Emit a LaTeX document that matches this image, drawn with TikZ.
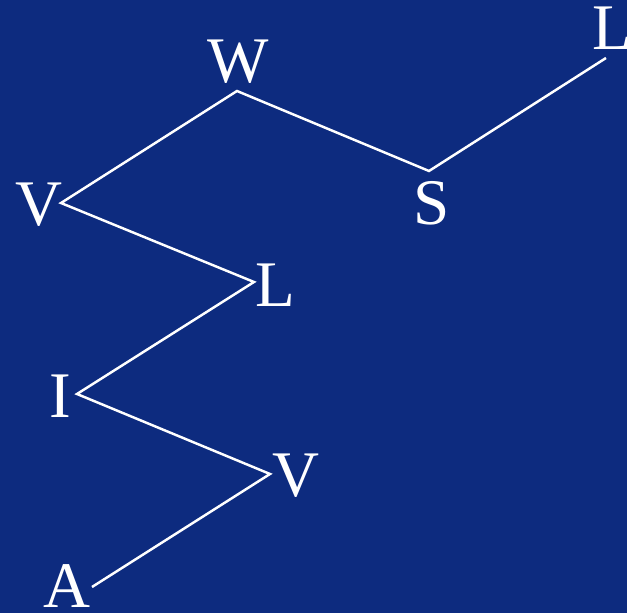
\documentclass[tikz,border=0pt]{standalone}
\usepackage{fontspec}
\setmainfont{Liberation Serif}
\usetikzlibrary{positioning}
\definecolor{TreeNavy}{RGB}{13,43,127}
\tikzset{
  tree/letter/.style={
    text=white,
    inner sep=0pt,
    font=\fontsize{18.5}{20}\selectfont
  },
  tree/edge/.style={draw=white, line width=0.7pt}
}

\begin{document}
\begin{tikzpicture}[x=0.01cm,y=-0.01cm]
  \fill[TreeNavy] (0,0) rectangle (627,613);
  \useasboundingbox (0,0) rectangle (627,613);
  % letters
  \node[tree/letter] (lW) at (238,61.5) {W};
  \node[tree/letter] (lL1) at (612,28.5) {L};
  \node[tree/letter] (lV1) at (39,205) {V};
  \node[tree/letter] (lS) at (432,203) {S};
  \node[tree/letter] (lL2) at (275,285) {L};
  \node[tree/letter] (lI) at (60,396) {I};
  \node[tree/letter] (lV2) at (296,476) {V};
  \node[tree/letter] (lA) at (67,586.5) {A};
  % line ends
  \coordinate (w) at (237,91);
  \coordinate (l1) at (606,58);
  \coordinate (v1) at (61,203);
  \coordinate (s) at (429,171);
  \coordinate (l2) at (254,282);
  \coordinate (i) at (77,394);
  \coordinate (v2) at (270,474);
  \coordinate (a) at (92,587);
  \draw[tree/edge] (l1) -- (s) -- (w) -- (v1) -- (l2) -- (i) -- (v2) -- (a);
\end{tikzpicture}
\end{document}
